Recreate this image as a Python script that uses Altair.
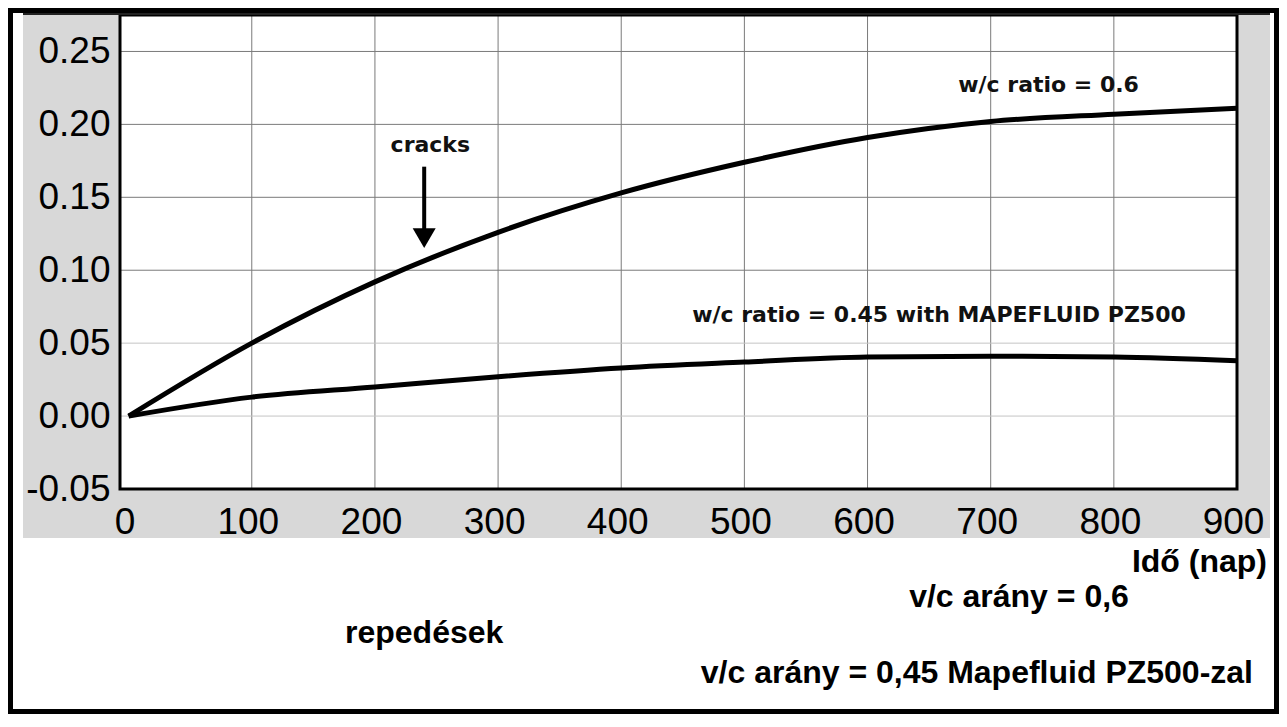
import altair as alt
import pandas as pd

# ---- data ----
days = [0, 100, 200, 300, 400, 500, 600, 700, 800, 900]
wc_060 = [0.0, 0.050, 0.092, 0.126, 0.153, 0.174, 0.191, 0.202, 0.207, 0.211]
wc_045 = [0.0, 0.013, 0.020, 0.027, 0.033, 0.037, 0.0405, 0.041, 0.0405, 0.038]
series_names = ["w/c ratio = 0.6", "w/c ratio = 0.45 with MAPEFLUID PZ500"]

x_ticks = [0, 100, 200, 300, 400, 500, 600, 700, 800, 900]
y_ticks = [-0.05, 0.0, 0.05, 0.10, 0.15, 0.20, 0.25]

ann_texts = ["cracks", "w/c ratio = 0.6", "w/c ratio = 0.45 with MAPEFLUID PZ500"]
ann_days = [245, 747, 658]
ann_vals = [0.186, 0.227, 0.069]

arrow_day = [240]
arrow_top = [0.171]
arrow_bottom = [0.126]
arrow_head = [0.122]

x_title = "Idő (nap)"
hu_label_06 = "v/c arány = 0,6"
hu_cracks = "repedések"
hu_label_045 = "v/c arány = 0,45 Mapefluid PZ500-zal"

# ---- layout ----
W, H = 1117, 474
X_DOMAIN = [-7, 900]
Y_DOMAIN = [-0.05, 0.275]

lines_df = pd.DataFrame({
    "day": days * 2,
    "value": wc_060 + wc_045,
    "series": [series_names[0]] * len(days) + [series_names[1]] * len(days),
})
ann_df = pd.DataFrame({"day": ann_days, "value": ann_vals, "text": ann_texts})
arrow_df = pd.DataFrame({"day": arrow_day, "top": arrow_top, "bottom": arrow_bottom, "head": arrow_head})
xgrid_df = pd.DataFrame({"day": [d for d in x_ticks if d > 0]})
ygrid_df = pd.DataFrame({"v": y_ticks})
one = pd.DataFrame({"k": [0]})

xscale = alt.Scale(domain=X_DOMAIN, nice=False, zero=False)
yscale = alt.Scale(domain=Y_DOMAIN, nice=False, zero=False)

gray_panel = alt.Chart(one).mark_rect(color="#d8d8d8").encode(
    x=alt.value(-97), x2=alt.value(1150), y=alt.value(-1), y2=alt.value(523)
)
white_plot = alt.Chart(one).mark_rect(color="white").encode(
    x=alt.value(0), x2=alt.value(W), y=alt.value(0), y2=alt.value(H)
)

xgrid = alt.Chart(xgrid_df).mark_rule(color="#7a7a7a", strokeWidth=1).encode(
    x=alt.X("day:Q", scale=xscale)
)
ygrid = alt.Chart(ygrid_df).mark_rule(strokeWidth=1).encode(
    y=alt.Y("v:Q", scale=yscale),
    color=alt.condition("datum.v <= 0.051", alt.value("#c4c4c4"), alt.value("#7a7a7a")),
)

lines = alt.Chart(lines_df).mark_line(
    color="black", strokeWidth=5, interpolate="monotone"
).encode(
    x=alt.X("day:Q", scale=xscale,
            axis=alt.Axis(values=x_ticks, title=None, grid=False, ticks=False, domain=False,
                          labelFont="Liberation Sans", labelFontSize=37, labelColor="black",
                          labelPadding=15, labelOffset=-4, labelFlush=False, zindex=1,
                          labelOverlap=False)),
    y=alt.Y("value:Q", scale=yscale,
            axis=alt.Axis(values=y_ticks, title=None, grid=False, ticks=False, domain=False,
                          labelFont="Liberation Sans", labelFontSize=37, labelColor="black",
                          labelPadding=10, labelFlush=False, zindex=1, labelOverlap=False,
                          labelExpr="datum.value < 0 ? '-' + format(-datum.value, '.2f') : format(datum.value, '.2f')")),
    detail="series:N",
)

arrow_shaft = alt.Chart(arrow_df).mark_rule(color="black", strokeWidth=4).encode(
    x=alt.X("day:Q", scale=xscale), y=alt.Y("top:Q", scale=yscale), y2="bottom:Q"
)
arrow_tip = alt.Chart(arrow_df).mark_point(
    shape="triangle-down", filled=True, size=529, color="black", opacity=1
).encode(x=alt.X("day:Q", scale=xscale), y=alt.Y("head:Q", scale=yscale))

ann = alt.Chart(ann_df).mark_text(
    font="DejaVu Sans", fontWeight="bold", fontSize=22, color="#111",
    align="center", baseline="middle"
).encode(x=alt.X("day:Q", scale=xscale), y=alt.Y("value:Q", scale=yscale), text="text:N")

plot_border = alt.Chart(one).mark_rect(fillOpacity=0, stroke="black", strokeWidth=3).encode(
    x=alt.value(0), x2=alt.value(W), y=alt.value(0), y2=alt.value(H)
)
top_line = alt.Chart(one).mark_rule(color="#222", strokeWidth=3).encode(
    x=alt.value(-97), x2=alt.value(1150), y=alt.value(-1.5)
)

def label(txt, x, y, align):
    return alt.Chart(one).mark_text(
        text=txt, font="Liberation Sans", fontWeight="bold", fontSize=32,
        color="black", align=align, baseline="alphabetic"
    ).encode(x=alt.value(x), y=alt.value(y))

t1 = label(x_title, 1147, 557, "right")
t2 = label(hu_label_06, 899, 592, "center")
t3 = label(hu_cracks, 225, 628, "left")
t4 = label(hu_label_045, 1133, 668, "right")

outer = alt.Chart(one).mark_rect(fillOpacity=0, stroke="black", strokeWidth=5).encode(
    x=alt.value(-109.5), x2=alt.value(1156.5), y=alt.value(-4.5), y2=alt.value(696.5)
)

chart = alt.layer(
    gray_panel, white_plot, xgrid, ygrid, lines, arrow_shaft, arrow_tip, ann,
    plot_border, top_line, t1, t2, t3, t4, outer
).properties(
    width=W, height=H,
    padding={"left": 112, "top": 7, "right": 42, "bottom": 225},
    autosize=alt.AutoSizeParams(type="none"),
    background="white",
).configure_view(stroke=None)

chart.save("out.html", embed_options={"renderer": "svg", "actions": False})
